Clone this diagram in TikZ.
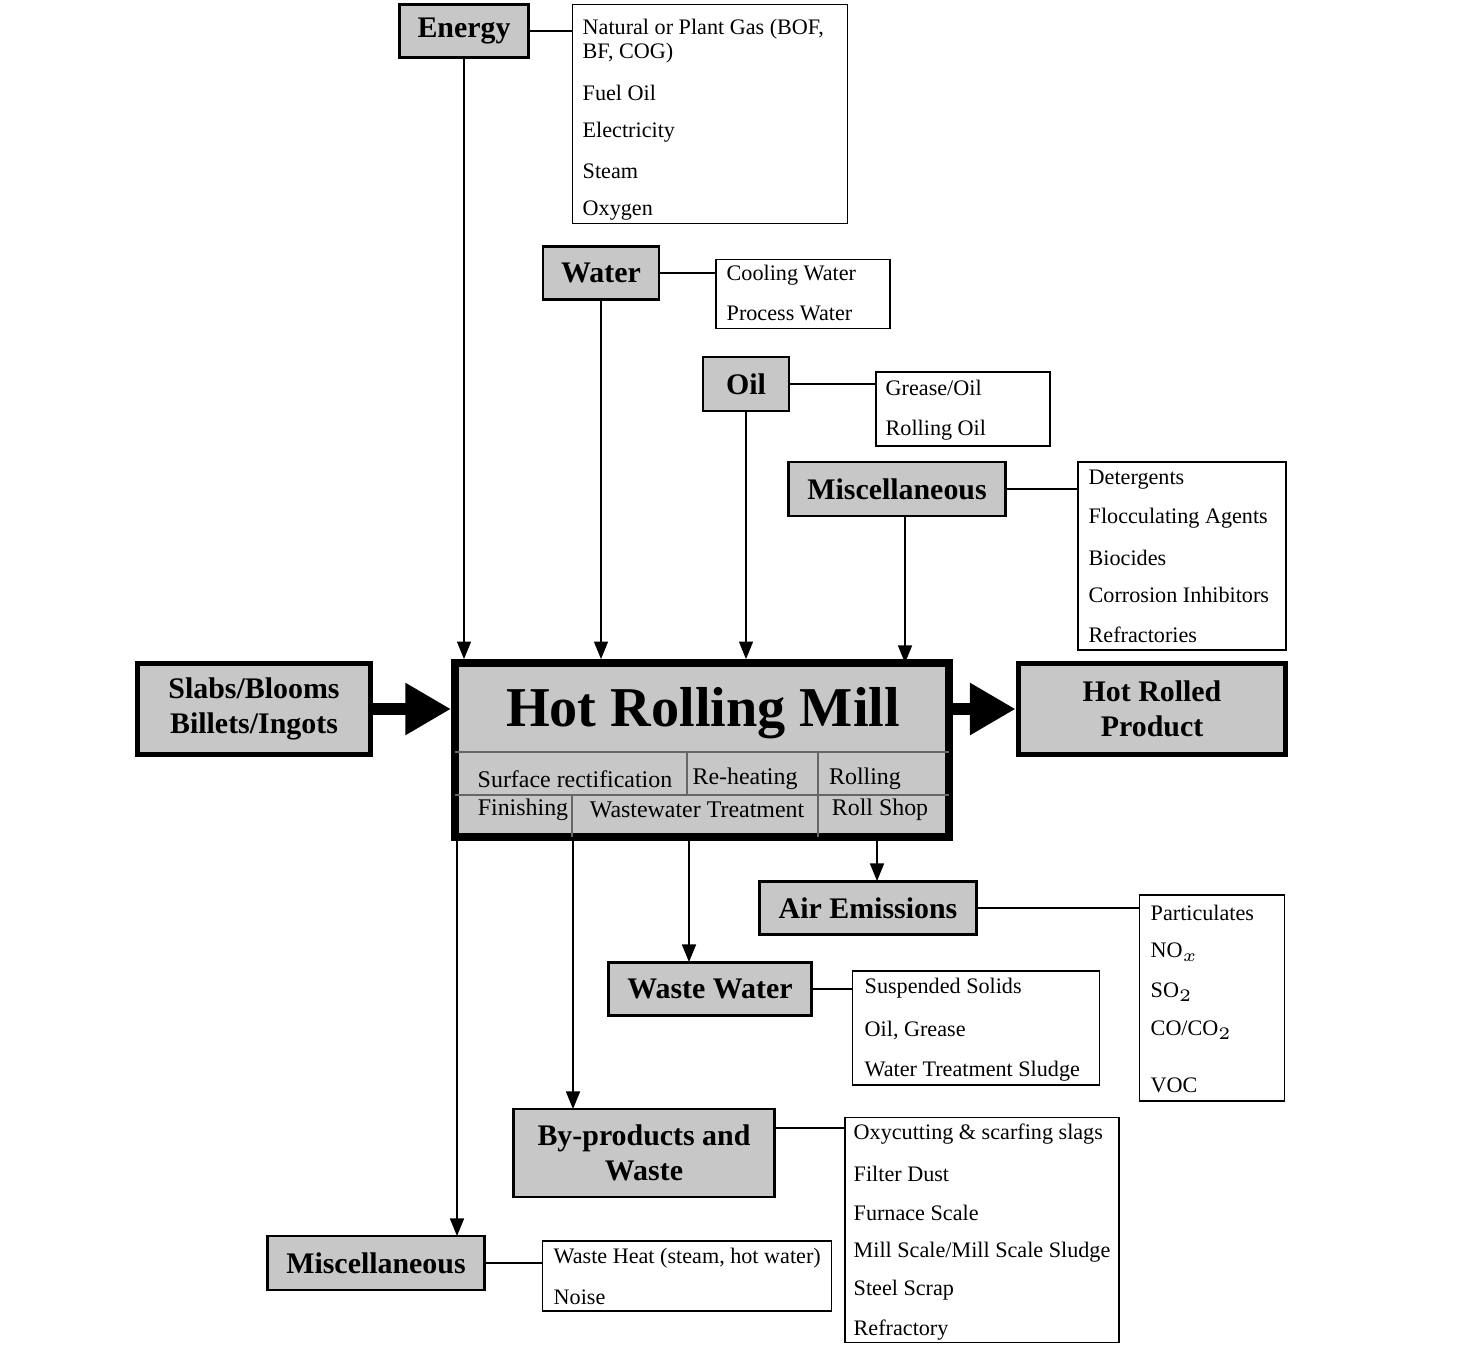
\documentclass[tikz,border=0pt]{standalone}
\usepackage{fontspec}
\setmainfont{Liberation Serif}
\usetikzlibrary{arrows.meta}
\tikzset{
  gbox/.style={draw, fill=black!22, thick, font=\fontsize{8.5}{10}\selectfont\bfseries, align=center, inner sep=0pt},
  lbox/.style={draw, fill=white, inner sep=0pt},
  item/.style={anchor=west, font=\fontsize{6.3}{7}\selectfont, inner sep=0pt},
  cell/.style={font=\fontsize{6.8}{8}\selectfont, inner sep=0pt},
  link/.style={draw, thin},
  feed/.style={-{Triangle[length=5pt,width=4pt]}, thin},
  bigarrow/.style={-{Triangle[length=13pt,width=14pt]}, line width=3.2pt}
}
\begin{document}
\begin{tikzpicture}[x=0.01cm, y=-0.01cm]
  \useasboundingbox (0,0) rectangle (1458,1358);
  % main block
  \node[draw, fill=black!22, line width=2.2pt, minimum width=4.94cm, minimum height=1.74cm, inner sep=0pt] (mill) at (702,750) {};
  \node[font=\fontsize{16}{18}\selectfont\bfseries, inner sep=0pt] (title) at (703,713) {Hot Rolling Mill};
  \draw[black!60] (455,752) -- (949,752);
  \draw[black!60] (455,795) -- (949,795);
  \draw[black!60] (687,752) -- (687,795);
  \draw[black!60] (818,752) -- (818,837);
  \draw[black!60] (572,795) -- (572,837);
  \node[cell] (c1) at (575,779) {Surface rectification};
  \node[cell] (c2) at (745,779) {Re-heating};
  \node[cell] (c3) at (865,779) {Rolling};
  \node[cell] (c4) at (523,810) {Finishing};
  \node[cell] (c5) at (697,810) {Wastewater Treatment};
  \node[cell] (c6) at (880,810) {Roll Shop};
  % in and out
  \node[gbox, line width=1.6pt, minimum width=2.33cm, minimum height=0.91cm] (slabs) at (254,709) {Slabs/Blooms\\Billets/Ingots};
  \node[gbox, line width=1.6pt, minimum width=2.67cm, minimum height=0.91cm] (product) at (1152,709) {Hot Rolled\\Product};
  \draw[bigarrow] (slabs.east) -- (mill.west |- slabs.east);
  \draw[bigarrow] (mill.east |- product.west) -- (product.west);
  % inputs
  \node[gbox, minimum width=1.29cm, minimum height=0.53cm] (energy) at (464,31) {Energy};
  \node[lbox, minimum width=2.75cm, minimum height=2.19cm] (energylist) at (710,114) {};
  \node[item, align=left] at (582,41) {Natural or Plant Gas (BOF,\\BF, COG)};
  \foreach \t/\y in {Fuel Oil/93, Electricity/132, Steam/171, Oxygen/211}
    \node[item] at (582,\y) {\t};
  \draw[link] (energy.east) -- (energylist.west |- energy.east);
  \draw[feed] (energy.south) -- (energy.south |- mill.north);

  \node[gbox, minimum width=1.16cm, minimum height=0.53cm] (water) at (601,273) {Water};
  \node[lbox, minimum width=1.74cm, minimum height=0.69cm] (waterlist) at (803,294) {};
  \foreach \t/\y in {Cooling Water/275, Process Water/313}
    \node[item] at (726,\y) {\t};
  \draw[link] (water.east) -- (waterlist.west |- water.east);
  \draw[feed] (water.south) -- (water.south |- mill.north);

  \node[gbox, minimum width=0.86cm, minimum height=0.54cm] (oil) at (746,384) {Oil};
  \node[lbox, minimum width=1.74cm, minimum height=0.74cm] (oillist) at (963,409) {};
  \foreach \t/\y in {{Grease/Oil}/388, Rolling Oil/430}
    \node[item] at (885,\y) {\t};
  \draw[link] (oil.east) -- (oillist.west |- oil.east);
  \draw[feed] (oil.south) -- (oil.south |- mill.north);

  \node[gbox, minimum width=2.17cm, minimum height=0.54cm] (miscin) at (897,489) {Miscellaneous};
  \node[lbox, minimum width=2.08cm, minimum height=1.88cm] (miscinlist) at (1182,556) {};
  \foreach \t/\y in {Detergents/480, Flocculating Agents/518, Biocides/558, Corrosion Inhibitors/595, Refractories/635}
    \node[item] at (1088,\y) {\t};
  \draw[link] (miscin.east) -- (miscinlist.west |- miscin.east);
  \draw[feed] (905,516) -- (905,663);
  % outputs
  \node[gbox, minimum width=2.17cm, minimum height=0.53cm] (air) at (868,908) {Air Emissions};
  \node[lbox, minimum width=1.45cm, minimum height=2.06cm] (airlist) at (1212,998) {};
  \foreach \t/\y in {Particulates/913, NO$_x$/952, SO$_2$/992, {CO/CO$_2$}/1030, VOC/1085}
    \node[item] at (1150,\y) {\t};
  \draw[link] (air.east) -- (airlist.west |- air.east);
  \draw[feed] (877,837) -- (877,881);

  \node[gbox, minimum width=2.03cm, minimum height=0.53cm] (wastewater) at (710,989) {Waste Water};
  \node[lbox, minimum width=2.47cm, minimum height=1.14cm] (wastewaterlist) at (976,1028) {};
  \foreach \t/\y in {Suspended Solids/988, {Oil, Grease}/1031, Water Treatment Sludge/1071}
    \node[item] at (864,\y) {\t};
  \draw[link] (wastewater.east) -- (wastewaterlist.west |- wastewater.east);
  \draw[feed] (689,837) -- (689,962);

  \node[gbox, minimum width=2.61cm, minimum height=0.88cm] (byproducts) at (644,1153) {By-products and\\Waste};
  \node[lbox, minimum width=2.74cm, minimum height=2.25cm] (byproductslist) at (982,1230) {};
  \foreach \t/\y in {Oxycutting \& scarfing slags/1134, Filter Dust/1174, Furnace Scale/1213, {Mill Scale/Mill Scale Sludge}/1252, Steel Scrap/1290, Refractory/1330}
    \node[item] at (853,\y) {\t};
  \draw[link] (775,1128) -- (845,1128);
  \draw[feed] (573,837) -- (573,1109);

  \node[gbox, minimum width=2.17cm, minimum height=0.54cm] (miscout) at (376,1263) {Miscellaneous};
  \node[lbox, minimum width=2.89cm, minimum height=0.70cm] (miscoutlist) at (687,1276) {};
  \foreach \t/\y in {{Waste Heat (steam, hot water)}/1258, Noise/1297}
    \node[item] at (553,\y) {\t};
  \draw[link] (miscout.east) -- (miscoutlist.west |- miscout.east);
  \draw[feed] (457,837) -- (457,1236);
\end{tikzpicture}
\end{document}
